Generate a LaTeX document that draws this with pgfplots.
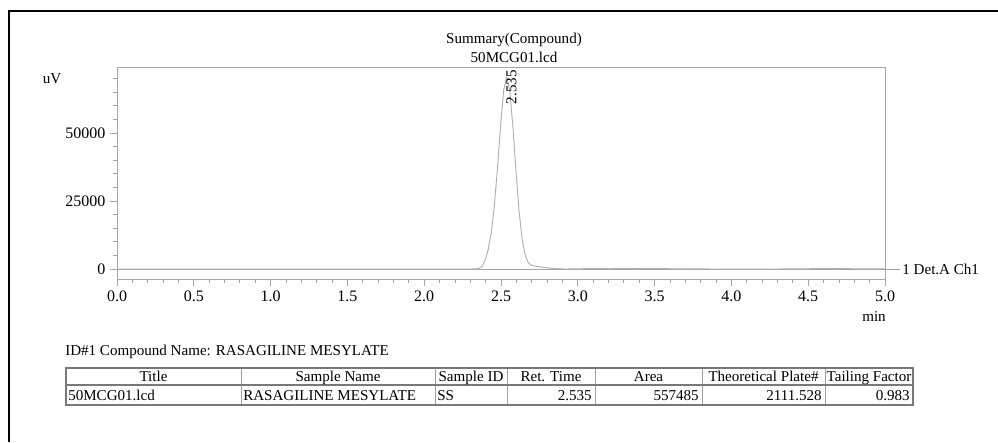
\documentclass[border=0pt]{standalone}
\usepackage{fontspec}
\setmainfont{Liberation Serif}
\usepackage{pgfplots}
\pgfplotsset{compat=1.18}

\definecolor{axgray}{RGB}{165,165,165}
\definecolor{sig}{RGB}{175,175,175}
\definecolor{tabline}{RGB}{120,120,120}

\newcommand{\fs}{\fontsize{11.3}{13}\selectfont}
\newcommand{\tfs}{\fontsize{12}{14}\selectfont}

\begin{document}
\begin{tikzpicture}[font=\fs]
% page is 998x442 px, 1px = 0.75pt, y runs downward
\useasboundingbox (0,0) rectangle (748.5pt,-331.5pt);

% frame (only left and top edges are in view)
\draw[line width=2.2pt, black] (9*0.75pt,-331.5pt) -- (9*0.75pt,-11*0.75pt) -- (748.5pt,-11*0.75pt);

\node at (514*0.75pt,-40*0.75pt) {Summary(Compound)};
\node at (514*0.75pt,-57*0.75pt) {50MCG01.lcd};
\node at (52*0.75pt,-79*0.75pt) {uV};
\node at (874*0.75pt,-317*0.75pt) {min};

\begin{axis}[
  at={(117*0.75pt,-67*0.75pt)}, anchor=north west,
  width=576pt, height=159pt, scale only axis,
  xmin=0, xmax=5, ymin=-3676, ymax=74264,
  xtick={0,0.5,...,5}, minor x tick num=4,
  ytick={0,25000,50000}, minor ytick={5000,10000,...,70000},
  scaled y ticks=false,
  xtick pos=bottom, ytick pos=left,
  tick align=outside,
  major tick length=5.2pt, minor tick length=3pt,
  axis line style={axgray, line width=0.6pt},
  every tick/.style={axgray, line width=0.6pt},
  xticklabel style={/pgf/number format/fixed, /pgf/number format/fixed zerofill,
    /pgf/number format/precision=1},
  yticklabel style={/pgf/number format/1000 sep={}},
  /pgf/number format/assume math mode=true,
  ticklabel style={font=\tfs},
  clip=false,
]
% zero line, running past the right edge to the channel label
\draw[axgray, line width=0.6pt] (axis cs:0,0) -- ([xshift=11.25pt]axis cs:5,0)
  node[right, black, inner sep=1.5pt] {1 Det.A Ch1};

\addplot[sig, line width=0.7pt] coordinates {
  (0,0) (1.0,0) (2.0,0) (2.30,0) (2.337,40) (2.357,220) (2.377,900)
  (2.397,3300) (2.417,7200) (2.437,13500) (2.457,23500) (2.477,37000)
  (2.497,52600) (2.517,65660) (2.537,70700) (2.557,65660) (2.577,52600)
  (2.597,36330) (2.617,21650) (2.637,11130) (2.657,5200) (2.677,2300)
  (2.697,1400) (2.72,1050) (2.76,750) (2.80,450) (2.84,200) (2.88,80)
  (2.92,0) (3.0,50) (3.1,200) (3.2,100) (3.4,200) (3.6,100) (3.8,50)
  (4.0,-80) (4.2,-50) (4.4,50) (4.6,150) (4.7,200) (4.8,80) (5.0,50)
};
\node[rotate=90, anchor=west, inner sep=0pt] at (axis cs:2.568,60500) {2.535};
\end{axis}

% peak table
\node[anchor=base west, inner sep=0pt] at (65*0.75pt,-355*0.75pt) {ID\#1 Compound Name: RASAGILINE MESYLATE};
\foreach \xa in {241,435,507,595,702,825}
  \draw[tabline!70, line width=0.6pt] (\xa*0.75pt,-368*0.75pt) -- (\xa*0.75pt,-405*0.75pt);
\draw[tabline, line width=1pt] (66*0.75pt,-385*0.75pt) -- (913*0.75pt,-385*0.75pt);
\draw[tabline, line width=1.3pt] (66*0.75pt,-368*0.75pt) rectangle (913*0.75pt,-405*0.75pt);

\foreach \xa/\xb/\t in {66/241/Title, 241/435/Sample Name, 435/507/Sample ID,
    507/595/Ret. Time, 595/702/Area, 702/825/Theoretical Plate\#, 825/913/Tailing Factor}
  \node[anchor=base, inner sep=0pt] at ({(\xa+\xb)/2*0.75pt},-381*0.75pt) {\t};

\foreach \xa/\t in {66/50MCG01.lcd, 241/RASAGILINE MESYLATE, 435/SS}
  \node[anchor=base west, inner sep=0pt] at ({(\xa+2)*0.75pt},-400*0.75pt) {\t};
\foreach \xb/\t in {595/2.535, 702/557485, 825/2111.528, 913/0.983}
  \node[anchor=base east, inner sep=0pt] at ({(\xb-3)*0.75pt},-400*0.75pt) {\t};
\end{tikzpicture}
\end{document}
